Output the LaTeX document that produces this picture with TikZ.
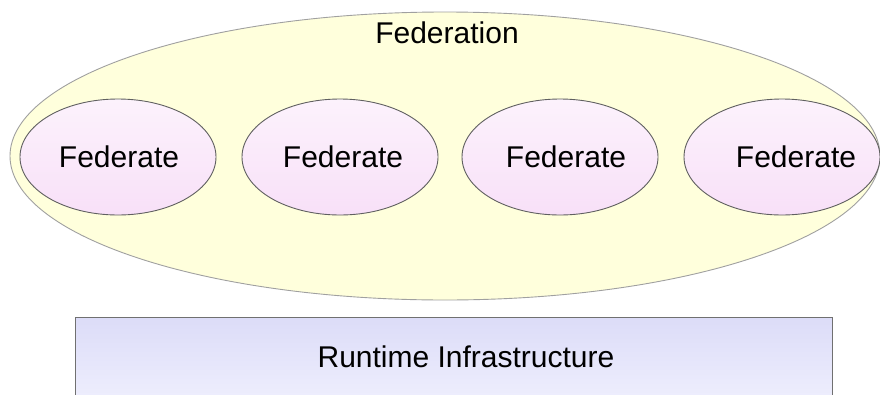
\documentclass[tikz,border=0pt]{standalone}
\usepackage{fontspec}
\setmainfont{Liberation Sans}
\usetikzlibrary{shapes.geometric}
\definecolor{fedfill}{HTML}{FFFFDC}
\definecolor{fedline}{HTML}{A0A0A0}
\definecolor{memtop}{HTML}{FCF2FC}
\definecolor{membot}{HTML}{F8E0F8}
\definecolor{memline}{HTML}{606060}
\definecolor{rtitop}{HTML}{DCDCF8}
\definecolor{rtibot}{HTML}{F2F2FE}
\definecolor{rtiline}{HTML}{707070}
\tikzset{
  federation/.style={ellipse, draw=fedline, fill=fedfill, line width=0.9pt,
    minimum width=870pt, minimum height=288pt, inner sep=0pt},
  member/.style={ellipse, draw=memline, top color=memtop, bottom color=membot,
    line width=0.9pt, minimum width=196pt, minimum height=116pt, inner sep=0pt},
  rtibox/.style={rectangle, draw=rtiline, top color=rtitop, bottom color=rtibot,
    line width=1.2pt, minimum width=757pt, minimum height=100pt, inner sep=0pt, anchor=north west},
  caption/.style={anchor=base, inner sep=0pt, font=\fontsize{30}{36}\selectfont, text=black}
}
\begin{document}
\begin{tikzpicture}[x=1pt, y=-1pt]
  \useasboundingbox (0,0) rectangle (880,394);
  \begin{scope}
    \clip (0,0) rectangle (880,394);
    % the federation as a whole
    \node[federation] (fed) at (445,156) {};
    \node[caption] (fedtext) at (447,43) {Federation};
    % its members
    \node[member] (m1) at (118,157) {};
    \node[member] (m2) at (340,157) {};
    \node[member] (m3) at (560,157) {};
    \node[member] (m4) at (782,157) {};
    \node[caption] (t1) at (119,167) {Federate};
    \node[caption] (t2) at (343,167) {Federate};
    \node[caption] (t3) at (566,167) {Federate};
    \node[caption] (t4) at (796,167) {Federate};
    % the RTI underneath
    \node[rtibox] (rti) at (75,317) {};
    \node[caption] (rtitext) at (466,367) {Runtime Infrastructure};
  \end{scope}
\end{tikzpicture}
\end{document}
